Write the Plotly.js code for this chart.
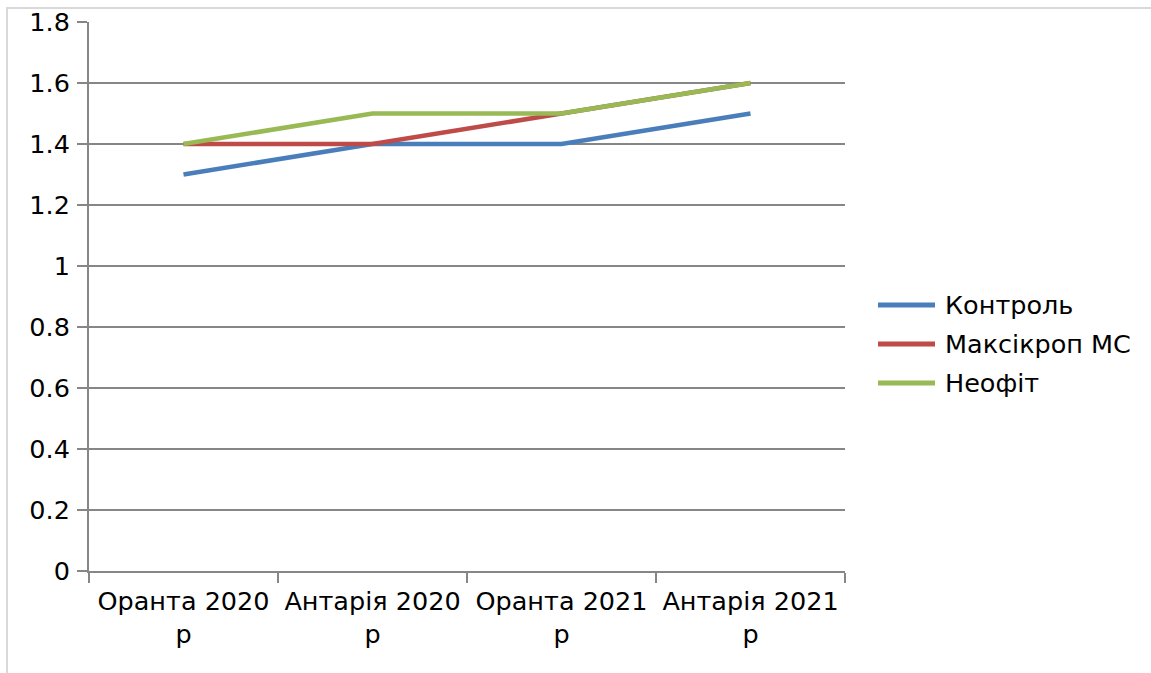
<!DOCTYPE html>
<html>
<head>
<meta charset="utf-8">
<script src="https://cdn.plot.ly/plotly-3.0.1.min.js"></script>
<style>
html,body{margin:0;padding:0;background:#fff;}
#wrap{position:relative;width:1151px;height:673px;overflow:hidden;}
#chart{position:absolute;left:0;top:0;width:1151px;height:673px;}
#frame{position:absolute;left:6px;top:7px;width:1200px;height:700px;border:2px solid #d9d9d9;pointer-events:none;box-sizing:border-box;}
</style>
</head>
<body>
<div id="wrap"><div id="frame"></div><div id="chart"></div></div>
<script>
const categories = ["Оранта 2020<br>р", "Антарія 2020<br>р", "Оранта 2021<br>р", "Антарія 2021<br>р"];
const kontrol = [1.3, 1.4, 1.4, 1.5];
const maksikrop = [1.4, 1.4, 1.5, 1.6];
const neofit = [1.4, 1.5, 1.5, 1.6];
const seriesNames = ["Контроль", "Максікроп МС", "Неофіт"];
const seriesColors = ["#4a7ebb", "#be4b48", "#98b954"];
const seriesValues = [kontrol, maksikrop, neofit];

const traces = seriesValues.map((v, i) => ({
  type: "scatter",
  mode: "lines",
  x: categories,
  y: v,
  name: seriesNames[i],
  line: {color: seriesColors[i], width: 4.5}
}));

const font = {family: "DejaVu Sans, sans-serif", size: 25.5, color: "#000"};

// legend drawn in paper coordinates (styling only)
const plotW = 756, plotH = 549, plotL = 89, plotT = 22;
const px = x => (x - plotL) / plotW;
const py = y => (plotT + plotH - y) / plotH;
const legendRows = [305, 344, 383];
const shapes = seriesNames.map((n, i) => ({
  type: "line", xref: "paper", yref: "paper",
  x0: px(878), x1: px(935), y0: py(legendRows[i]), y1: py(legendRows[i]),
  line: {color: seriesColors[i], width: 5}
}));
const annotations = seriesNames.map((n, i) => ({
  xref: "paper", yref: "paper", x: px(943), y: py(legendRows[i]),
  xanchor: "left", yanchor: "middle", text: n, showarrow: false, font: font
}));

const layout = {
  width: 1151, height: 673,
  margin: {l: 89, r: 306, t: 22, b: 102, pad: 0},
  paper_bgcolor: "rgba(0,0,0,0)",
  plot_bgcolor: "rgba(0,0,0,0)",
  font: font,
  showlegend: false,
  shapes: shapes,
  annotations: annotations,
  xaxis: {
    type: "category",
    range: [-0.5, 3.5],
    tickson: "boundaries",
    ticks: "outside", ticklen: 10, tickcolor: "#868686", tickwidth: 2,
    showline: true, linecolor: "#868686", linewidth: 2,
    showgrid: false, zeroline: false,
    tickfont: font, ticklabelstandoff: 6
  },
  yaxis: {
    range: [0, 1.8], dtick: 0.2, tick0: 0,
    ticks: "outside", ticklen: 10, tickcolor: "#868686", tickwidth: 2,
    showline: true, linecolor: "#868686", linewidth: 2,
    showgrid: true, gridcolor: "#868686", gridwidth: 2,
    zeroline: false,
    tickfont: font, ticklabelstandoff: 2
  }
};
Plotly.newPlot("chart", traces, layout, {displayModeBar: false, staticPlot: true});
</script>
</body>
</html>
